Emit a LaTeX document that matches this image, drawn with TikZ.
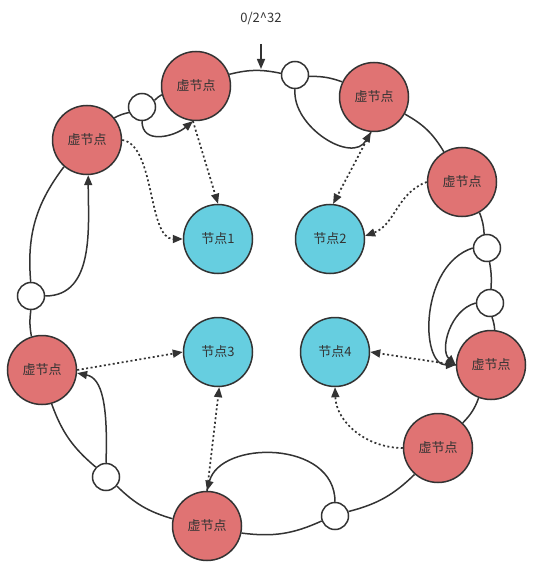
\documentclass[tikz,border=0pt]{standalone}
\usepackage{fontspec}
\newfontfamily\cjk{Noto Sans CJK SC}
\usetikzlibrary{arrows.meta}
\definecolor{vred}{RGB}{224,115,115}
\definecolor{rblue}{RGB}{102,206,224}
\definecolor{ink}{RGB}{51,51,51}
\begin{document}
\begin{tikzpicture}[x=1pt,y=1pt,
  virt/.style={circle,draw=ink,fill=vred,line width=1.5pt,minimum size=69pt,inner sep=0pt,text=ink,font=\cjk\fontsize{13}{15}\selectfont},
  real/.style={virt,fill=rblue},
  slot/.style={circle,draw=ink,fill=white,line width=1.5pt,minimum size=27pt,inner sep=0pt},
  ringline/.style={draw=ink,line width=1.5pt},
  arr/.style={ringline,-{Triangle[length=10pt,width=8pt]}},
  dotarr/.style={draw=ink,line width=1.7pt,dash pattern=on 2pt off 2.5pt,-{Triangle[length=10pt,width=8pt]}}]
\useasboundingbox (0,0) rectangle (542,-569);
% virtual nodes
\node[virt] (V0) at (87,-140) {虚节点};
\node[virt] (V1) at (196,-86) {虚节点};
\node[virt] (V2) at (374,-97) {虚节点};
\node[virt] (V3) at (462,-182) {虚节点};
\node[virt] (V4) at (42,-370) {虚节点};
\node[virt] (V5) at (491,-365) {虚节点};
\node[virt] (V6) at (438,-448) {虚节点};
\node[virt] (V7) at (207,-526) {虚节点};
% empty slots
\node[slot] (A) at (142,-107) {};
\node[slot] (B) at (295,-75) {};
\node[slot] (C) at (487,-248) {};
\node[slot] (D) at (31,-296) {};
\node[slot] (E) at (490,-303) {};
\node[slot] (F) at (106,-477) {};
\node[slot] (G) at (335,-516) {};
% real nodes
\node[real] (N1) at (218,-239) {节点1};
\node[real] (N2) at (330,-239) {节点2};
\node[real] (N3) at (218,-352) {节点3};
\node[real] (N4) at (335,-352) {节点4};
% top label and marker
\node[text=ink,font=\cjk\fontsize{13}{15}\selectfont] (lab) at (261,-19) {0/2\textasciicircum 32};
\coordinate (as) at (261,-44);
\coordinate (ae) at (261,-69);
\draw[arr] (as) -- (ae);
% ring
\draw[ringline] (V1) to[bend left=13] (B);
\draw[ringline] (B) to[bend left=10] (V2);
\draw[ringline] (V2) to[bend left=15] (V3);
\draw[ringline] (V3) to[bend left=9] (C);
\draw[ringline] (C) to[bend left=7] (E);
\draw[ringline] (E) to[bend left=7] (V5);
\draw[ringline] (V5) to[bend left=12] (V6);
\draw[ringline] (V6) to[bend left=15] (G);
\draw[ringline] (G) to[bend left=16] (V7);
\draw[ringline] (V7) to[bend left=14] (F);
\draw[ringline] (F) to[bend left=15] (V4);
\draw[ringline] (V4) to[bend left=9] (D);
\draw[ringline] (D) to[bend left=21] (V0);
\draw[ringline] (V0) to[bend left=8] (A);
\draw[ringline] (A) to[bend left=7] (V1);
% solid migration arrows
\draw[arr] (A.south) to[out=-90,in=-140,looseness=1.2] (V1.-95);
\draw[arr] (B.south) to[out=-95,in=-120,looseness=1.1] (V2.-95);
\draw[arr] (D.east) to[out=0,in=-90] (V0.-88);
\draw[arr] (C.west) .. controls +(-53,-17) and +(-36,0) .. (V5.west);
\draw[arr] (E.west) .. controls +(-26,-7) and +(-16,15) .. (V5.west);
\draw[arr] (F.north) .. controls +(2,58) and +(25,-5) .. (V4.-5);
\draw[arr] (G.north) .. controls +(0,62) and +(13,51) .. (V7.north);
% dotted mapping arrows
\draw[dotarr] (V0.east) .. controls +(33,-5) and +(-35,0) .. (N1.west);
\draw[dotarr] (V1.-95) -- (N1.north);
\draw[dotarr] (V2.-95) -- (N2.85);
\draw[dotarr] (V3.west) to[out=200,in=20] (N2.5);
\draw[dotarr] (V4.east) -- (N3.west);
\draw[dotarr] (V7.north) -- (N3.-88);
\draw[dotarr] (V5.west) -- (N4.east);
\draw[dotarr] (V6.west) to[out=180,in=-88] (N4.south);
\end{tikzpicture}
\end{document}
